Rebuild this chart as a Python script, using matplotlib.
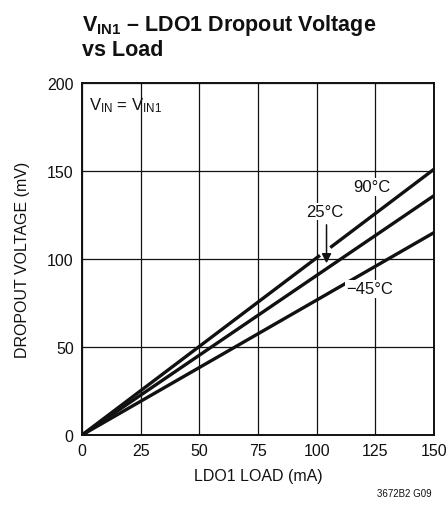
import matplotlib.pyplot as plt

# data
load = [0, 150]
v_90 = [0, 151]
v_25 = [0, 136]
v_m45 = [0, 115]
x_ticks = [0, 25, 50, 75, 100, 125, 150]
y_ticks = [0, 50, 100, 150, 200]

fam = 'Liberation Sans'
plt.rcParams['font.family'] = [fam, 'DejaVu Sans']
plt.rcParams['mathtext.fontset'] = 'custom'
plt.rcParams['mathtext.rm'] = fam
plt.rcParams['mathtext.it'] = fam
plt.rcParams['mathtext.bf'] = fam + ':bold'

fig = plt.figure(figsize=(4.46, 5.06), dpi=100)
ax = fig.add_axes([82/446, 1 - 436/506, 352/446, 352/506])

# 90C line is broken where the 25C arrow crosses it
ax.plot([0, 101.4], [0, 101.4 * v_90[1] / 150], color='#111', lw=2.4, solid_capstyle='butt')
ax.plot([105.8, 150], [105.8 * v_90[1] / 150, v_90[1]], color='#111', lw=2.4, solid_capstyle='butt')
ax.plot(load, v_25, color='#111', lw=2.4)
ax.plot(load, v_m45, color='#111', lw=2.4)

ax.set_xlim(0, 150)
ax.set_ylim(0, 200)
ax.set_xticks(x_ticks)
ax.set_yticks(y_ticks)
ax.grid(True, color='#111', lw=0.9)
ax.tick_params(length=0, labelsize=11.5, pad=6, colors='#111')
for s in ax.spines.values():
    s.set_linewidth(1.4)
    s.set_color('#111')
ax.set_axisbelow(True)

ax.set_xlabel('LDO1 LOAD (mA)', fontsize=11.5, labelpad=7, color='#111')
ax.set_ylabel('DROPOUT VOLTAGE (mV)', fontsize=11.5, labelpad=12, color='#111')

ax.text(123.5, 141, '90°C', fontsize=12, ha='center', va='center', color='#111',
        bbox=dict(fc='white', ec='none', pad=1))
ax.text(103.5, 127, '25°C', fontsize=12, ha='center', va='center', color='#111',
        bbox=dict(fc='white', ec='none', pad=1))
ax.text(122.5, 83, '\u221245°C', fontsize=12, ha='center', va='center', color='#111',
        bbox=dict(fc='white', ec='none', pad=1))
ax.annotate('', xy=(104.2, 96), xytext=(104.2, 121),
            arrowprops=dict(arrowstyle='-|>', color='#111', lw=1.1, mutation_scale=14))

ax.text(3, 193, r'V$_{\rm IN}$ = V$_{\rm IN1}$', fontsize=12, ha='left', va='top', color='#111')

fig.text(82/446, 1 - 26/506, r'$\mathbf{V_{IN1}}$' + ' \u2013 LDO1 Dropout Voltage',
         fontsize=15.5, fontweight='bold', ha='left', va='center', color='#111')
fig.text(82/446, 1 - 50/506, 'vs Load', fontsize=15.5, fontweight='bold',
         ha='left', va='center', color='#111')
fig.text(432/446, 1 - 494/506, '3672B2 G09', fontsize=7, ha='right', va='center', color='#111')

fig.savefig('out.png', dpi=100)
